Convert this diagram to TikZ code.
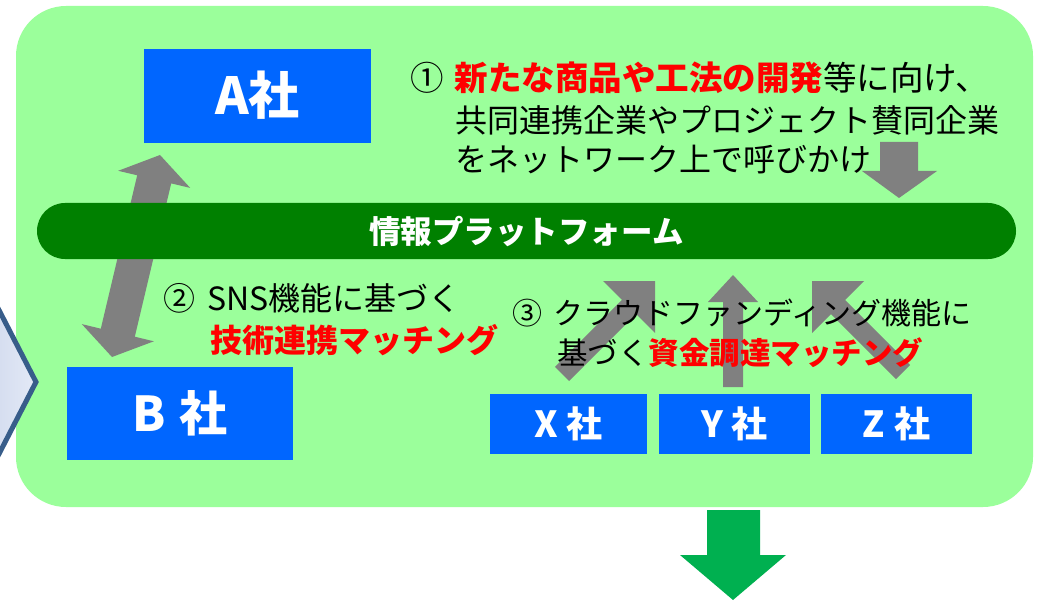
\documentclass[tikz,border=0pt]{standalone}
\usepackage{fontspec}
\setmainfont{Noto Sans CJK JP}
\definecolor{bg}{RGB}{155,255,155}
\definecolor{boxblue}{RGB}{0,102,255}
\definecolor{bargreen}{RGB}{0,128,0}
\definecolor{arrgray}{RGB}{128,128,128}
\definecolor{arrgreen}{RGB}{0,176,80}
\definecolor{chevb}{RGB}{56,93,138}
\definecolor{chevl}{RGB}{190,204,230}
\definecolor{chevr}{RGB}{228,233,246}
\begin{document}
\begin{tikzpicture}[x=1pt,y=-1pt,
  company/.style={fill=boxblue, text=white, inner sep=0pt, font=\bfseries},
  txt/.style={inner sep=0pt, anchor=west, text=black},
  blockarrow/.style={fill=arrgray}]
\useasboundingbox (0,0) rectangle (1041,604);
\clip (0,0) rectangle (1041,604);
% background panel
\fill[bg, rounded corners=50pt] (16,6) rectangle (1033,507);
% left chevron (partially visible)
\draw[chevb, line width=5pt, line join=miter, left color=chevl, right color=chevr]
  (-60,292.6) -- (-10,292.6) -- (36,382) -- (-10,471.4) -- (-60,471.4) -- cycle;
% bottom green arrow
\fill[arrgreen] (707,510) -- (760,510) -- (760,555) -- (786,555) -- (733,600) -- (680,555) -- (707,555) -- cycle;
% gray double arrow A <-> B
\fill[blockarrow] (160,155) -- (190.2,187.9) -- (171.2,183.4) -- (134.8,336.7) -- (153.8,341.3)
  -- (112,357) -- (81.8,324.1) -- (100.8,328.7) -- (137.2,175.3) -- (118.2,170.8) -- cycle;
% gray arrow down to platform
\fill[blockarrow] (880,142) -- (918,142) -- (918,171) -- (937,171) -- (899,198) -- (862,171) -- (880,171) -- cycle;
% three up arrows
\fill[blockarrow] (655,281) -- (655,333) -- (636.1,314.1) -- (569.1,381.1) -- (554.9,366.9) -- (621.9,299.9) -- (603,281) -- cycle;
\fill[blockarrow] (733,275) -- (758,302) -- (743,302) -- (743,387) -- (723,387) -- (723,302) -- (708,302) -- cycle;
\fill[blockarrow] (812,281) -- (864,281) -- (845.1,299.9) -- (910.1,364.9) -- (895.9,379.1) -- (830.9,314.1) -- (812,333) -- cycle;
% platform bar
\node[fill=bargreen, rounded corners=28pt, minimum width=979pt, minimum height=56pt, inner sep=0pt,
  text=white, font=\bfseries\fontsize{31.5}{36}\selectfont] (bar) at (526.5,231) {情報プラットフォーム};
% companies
\node[company, minimum width=227pt, minimum height=94pt, font=\bfseries\fontsize{51}{56}\selectfont] (A) at (257.5,96) {\raisebox{7pt}{A社}};
\node[company, minimum width=226pt, minimum height=93pt, font=\bfseries\fontsize{48}{54}\selectfont] (B) at (180,413.5) {\raisebox{2pt}{B\hspace{0.3em}社}};
\node[company, minimum width=157pt, minimum height=60pt, font=\bfseries\fontsize{36}{40}\selectfont] (X) at (568.5,424) {\raisebox{4pt}{X\hspace{0.25em}社}};
\node[company, minimum width=151pt, minimum height=60pt, font=\bfseries\fontsize{36}{40}\selectfont] (Y) at (734.5,424) {\raisebox{4pt}{Y\hspace{0.25em}社}};
\node[company, minimum width=151pt, minimum height=60pt, font=\bfseries\fontsize{36}{40}\selectfont] (Z) at (896.5,424) {\raisebox{4pt}{Z\hspace{0.25em}社}};
% item 1
\node[txt, font=\fontsize{33.5}{40}\selectfont] (t1a) at (410,78) {①\hspace{11pt}{\bfseries\color{red}新たな商品や工法の開発}等に向け、};
\node[txt, font=\fontsize{32}{40}\selectfont] (t1b) at (455,120) {共同連携企業やプロジェクト賛同企業};
\node[txt, font=\fontsize{32}{40}\selectfont] (t1c) at (455,160) {をネットワーク上で呼びかけ};
% item 2
\node[txt, font=\fontsize{32}{40}\selectfont] (t2a) at (163,298) {②\hspace{12pt}SNS機能に基づく};
\node[txt, font=\bfseries\fontsize{32}{40}\selectfont, text=red] (t2b) at (210,340) {技術連携マッチング};
% item 3
\node[txt, font=\fontsize{30}{38}\selectfont] (t3a) at (512,313) {③\hspace{11pt}クラウドファンディング機能に};
\node[txt, font=\fontsize{30.5}{38}\selectfont] (t3b) at (557,353) {基づく{\bfseries\color{red}資金調達マッチング}};
\end{tikzpicture}
\end{document}
